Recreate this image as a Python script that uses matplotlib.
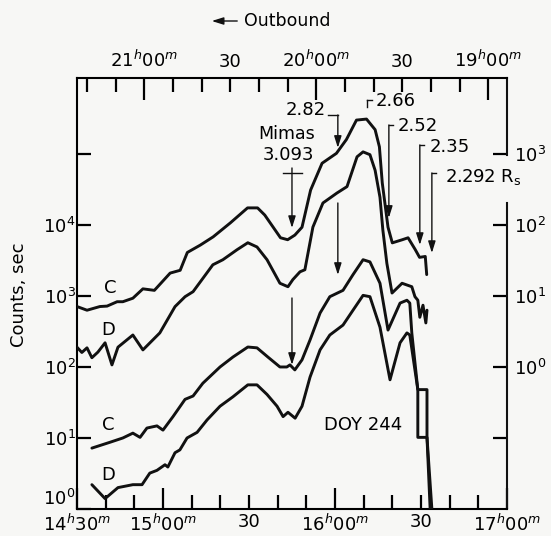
import numpy as np
import matplotlib.pyplot as plt

plt.rcParams['font.family'] = ['DejaVu Sans']
plt.rcParams['mathtext.fontset'] = 'dejavusans'

# time in minutes after 14h00 UT (bottom axis), counts per sec
c_hi_t = [30, 33.5, 38, 40.5, 44, 46, 49.5, 53, 57, 62.5, 66, 68.5, 73, 77.5, 83.5,
          89.5, 93, 95.5, 101, 103.5, 106, 108.5, 111.5, 115.5, 120.5, 124, 127.5, 131,
          134, 135.5, 136.5, 138.5, 140, 143.5, 145.5, 148, 149.5, 151.5, 152]
c_hi = [710, 630, 710, 720, 830, 830, 930, 1260, 1200, 2100, 2300, 4100, 5200, 6800,
        10700, 17400, 17400, 13800, 6600, 6200, 7200, 9300, 31000, 74000, 102000,
        160000, 300000, 310000, 220000, 126000, 39000, 9300, 5600, 6200, 6600, 4500,
        3500, 3600, 2000]

d_hi_t = [30, 31.7, 33.5, 35.2, 37.3, 39.8, 42.2, 44.3, 49.5, 53, 58.9, 64.2, 67.7,
          70.5, 73.6, 77.4, 80.9, 85.8, 89.6, 92.8, 96.3, 100.8, 103.6, 105.3, 107.8,
          109.5, 112.3, 115.8, 120.7, 124.2, 127.7, 129.8, 132.2, 134, 135.7, 136.7,
          138.1, 139.9, 143.4, 146.8, 147.9, 148.9, 149.6, 150.7, 151.7, 152.1]
d_hi = [190, 160, 186, 135, 162, 219, 107, 190, 282, 174, 302, 708, 977, 1150, 1700,
        2750, 3240, 4470, 5620, 4900, 3240, 1510, 1350, 1700, 2190, 2340, 9330, 20400,
        28200, 34700, 91200, 107000, 97700, 58900, 24500, 8510, 2880, 1100, 1510, 1350,
        977, 871, 501, 741, 417, 631]

c_lo_t = [35.2, 41.5, 46, 49.5, 52, 54.4, 57.9, 60, 63.5, 67.7, 70.5, 73.9, 79.9, 84.4,
          89.6, 92.8, 96.6, 100.8, 103.2, 104.3, 106, 108.5, 111.3, 114.8, 118.2, 122.8,
          126.3, 129.8, 132.2, 135.7, 138.5, 142.7, 145.1, 146.1, 146.8, 148.9, 152.1,
          152.1, 153.8]
c_lo = [7.2, 8.7, 10, 11.7, 10.2, 13.8, 14.8, 12.9, 20, 35, 39, 59, 100, 138, 191, 186,
        138, 100, 100, 107, 91, 126, 240, 575, 977, 1200, 2000, 3240, 3020, 1510, 331,
        794, 871, 794, 302, 48, 48, 10.2, 1.0]

d_lo_t = [35.2, 39.8, 44.3, 49.5, 52.7, 55.4, 57.9, 60.7, 61.7, 64.2, 65.9, 68.4, 71.9,
          75.4, 79.9, 84.4, 89.6, 92.8, 96.3, 99.8, 101.9, 103.6, 106.1, 108.5, 111.3,
          114.8, 118.2, 122.8, 126.3, 129.8, 132.2, 135.7, 139.2, 142.7, 145.1, 146.1,
          148.9, 148.9, 152.1, 153.2]
d_lo = [2.2, 1.4, 2.0, 2.2, 2.2, 3.2, 3.5, 4.2, 3.9, 6.2, 6.8, 10, 12, 18, 28, 38, 56,
        56, 41, 28, 20, 23, 19, 28, 72, 174, 282, 389, 631, 1020, 977, 363, 66, 219, 302,
        282, 48, 10.2, 10.2, 1.0]

bottom_ticks = list(range(30, 181, 10))
bottom_labels = {30: '14$^h$30$^m$', 60: '15$^h$00$^m$', 90: '30',
                 120: '16$^h$00$^m$', 150: '30', 180: '17$^h$00$^m$'}
# top axis: spacecraft time, minutes of day, running backwards
top_ticks = list(range(1140, 1281, 10))
top_labels = {1260: '21$^h$00$^m$', 1230: '30', 1200: '20$^h$00$^m$',
              1170: '30', 1140: '19$^h$00$^m$'}
left_ticks = [1, 10, 100, 1e3, 1e4, 1e5]
left_labels = ['10$^0$', '10$^1$', '10$^2$', '10$^3$', '10$^4$', '']
right_ticks = [0.1, 1, 10, 100, 1000]
right_labels = ['', '10$^0$', '10$^1$', '10$^2$', '10$^3$']

bg = '#f7f7f5'
ink = '#111111'
fs = 13

fig = plt.figure(figsize=(5.51, 5.36), dpi=100, facecolor=bg)
ax = fig.add_axes([0.1397, 0.0504, 0.7804, 0.8041], facecolor=bg)
ax.set_yscale('log')
ax.set_xlim(30, 180)
ax.set_ylim(1, 10 ** 6.07)

for t, v in [(c_hi_t, c_hi), (d_hi_t, d_hi), (c_lo_t, c_lo), (d_lo_t, d_lo)]:
    ax.plot(t, v, color=ink, lw=2.1, solid_joinstyle='round', solid_capstyle='round',
            zorder=3)

for s in ['left', 'bottom', 'top']:
    ax.spines[s].set_linewidth(1.5)
ax.spines['right'].set_visible(False)
# right frame line is broken around the 2.292 label
ax.plot([1, 1], [0, 0.71], transform=ax.transAxes, color=ink, lw=1.5, clip_on=False)
ax.plot([1, 1], [0.821, 1], transform=ax.transAxes, color=ink, lw=1.5, clip_on=False)

ax.set_xticks(bottom_ticks, [bottom_labels.get(v, '') for v in bottom_ticks])
ax.tick_params(axis='x', direction='in', width=1.6, labelsize=fs, pad=3, top=False)
for tick, v in zip(ax.xaxis.get_major_ticks(), bottom_ticks):
    tick.tick1line.set_markersize(15 if v % 60 == 0 or v == 30 else 10)

ax.set_yticks(left_ticks, left_labels)
ax.yaxis.set_minor_locator(plt.NullLocator())
ax.tick_params(axis='y', direction='in', length=10, width=1.6, labelsize=fs, pad=1,
               right=False)
ax.get_yticklabels()[0].set_va('bottom')

top = ax.secondary_xaxis('top', functions=(lambda t: 1313.5 - t, lambda t: 1313.5 - t))
top.set_xticks(top_ticks, [top_labels.get(v, '') for v in top_ticks])
top.tick_params(direction='in', width=1.6, labelsize=fs, pad=5)
top.spines['top'].set_visible(False)
for tick, v in zip(top.xaxis.get_major_ticks(), top_ticks):
    ln = 16 if v % 60 == 0 else 10
    tick.tick1line.set_markersize(ln)
    tick.tick2line.set_markersize(ln)

right = ax.secondary_yaxis('right', functions=(lambda y: y / 100, lambda y: y * 100))
right.set_yticks(right_ticks, right_labels)
right.yaxis.set_minor_locator(plt.NullLocator())
right.tick_params(direction='in', length=10, width=1.6, labelsize=fs, pad=5)
right.spines['right'].set_visible(False)

# annotations
arrow = dict(arrowstyle='-|>,head_length=0.7,head_width=0.22', lw=1.0, color=ink,
             shrinkA=0, shrinkB=0)


def down_arrow(t, y0, y1):
    ax.annotate('', xy=(t, y1), xytext=(t, y0), arrowprops=arrow, zorder=4)


def corner(t0, t1, y, y_low=None):
    ax.plot([t1, t0], [y, y], color=ink, lw=1.0)
    if y_low is not None:
        ax.plot([t0, t0], [y, y_low], color=ink, lw=1.0)


ax.text(109.9, 4.17e5, '2.82', fontsize=fs, ha='center', va='center')
corner(121.0, 117.5, 3.54e5)
down_arrow(121.0, 3.54e5, 1.22e5)
down_arrow(121.0, 2.04e4, 1.98e3)

ax.text(103.2, 1.91e5, 'Mimas', fontsize=fs - 0.5, ha='center', va='center')
ax.text(103.6, 9.68e4, '3.093', fontsize=fs, ha='center', va='center')
ax.plot([101.9, 108.5], [5.4e4, 5.4e4], color=ink, lw=1.0)
down_arrow(105.0, 6.35e4, 9.07e3)
down_arrow(105.0, 937, 107)

ax.text(134.3, 5.57e5, '2.66', fontsize=fs, ha='left', va='center')
corner(131.2, 132.9, 5.76e5, 4.59e5)

ax.text(142.0, 2.48e5, '2.52', fontsize=fs, ha='left', va='center')
corner(138.8, 140.2, 2.56e5)
down_arrow(138.8, 2.56e5, 1.26e4)

ax.text(153.1, 1.26e5, '2.35', fontsize=fs, ha='left', va='center')
corner(149.6, 151.0, 1.34e5)
down_arrow(149.6, 1.34e5, 5.23e3)

ax.text(158.4, 4.74e4, '2.292 R$_\\mathrm{s}$', fontsize=fs, ha='left', va='center',
        clip_on=False)
corner(153.8, 155.2, 5.4e4)
down_arrow(153.8, 5.4e4, 4.03e3)

ax.text(129.8, 15.2, 'DOY 244', fontsize=fs, ha='center', va='center')
ax.text(41.5, 1300, 'C', fontsize=fs, ha='center', va='center')
ax.text(40.8, 332, 'D', fontsize=fs, ha='center', va='center')
ax.text(40.8, 15.2, 'C', fontsize=fs, ha='center', va='center')
ax.text(40.8, 3.0, 'D', fontsize=fs, ha='center', va='center')

fig.text(19 / 551, 1 - 295 / 536, 'Counts, sec', rotation=90, fontsize=fs,
         ha='center', va='center')
fig.text(244 / 551, 1 - 21 / 536, 'Outbound', fontsize=fs - 0.5, ha='left', va='center')
fig.patches.append(plt.matplotlib.patches.FancyArrowPatch(
    (240 / 551, 1 - 21 / 536), (209 / 551, 1 - 21 / 536), transform=fig.transFigure,
    arrowstyle='-|>,head_length=0.7,head_width=0.22', lw=1.0, color=ink,
    mutation_scale=10))

fig.savefig('out.png', dpi=100, facecolor=bg)
